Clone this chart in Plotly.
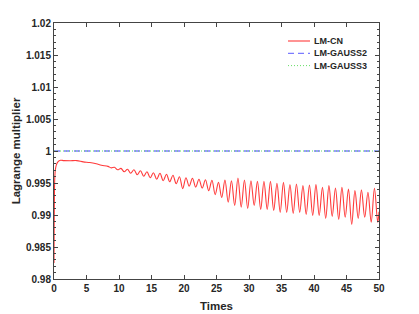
import plotly.graph_objects as go

# ---- data ----
t_start = [0.0, 0.03, 0.07, 0.12, 0.2, 0.35, 0.6, 1.0, 1.5, 2.5, 3.5, 4.5, 5.5, 6.5, 7.3]
v_start = [0.9825, 0.9890, 0.9935, 0.9958, 0.9970, 0.9978, 0.9983, 0.99855, 0.9985, 0.99848,
           0.9985, 0.9983, 0.9982, 0.9980, 0.99778]

# oscillation extrema (peaks at k+0.3, troughs at k+0.8), k = 8..49
t_peak = [8.3, 9.3, 10.3, 11.3, 12.3, 13.3, 14.3, 15.3, 16.3, 17.3, 18.3, 19.3, 20.3, 21.3,
          22.3, 23.3, 24.3, 25.3, 26.3, 27.3, 28.3, 29.3, 30.3, 31.3, 32.3, 33.3, 34.3, 35.3,
          36.3, 37.3, 38.3, 39.3, 40.3, 41.3, 42.3, 43.3, 44.3, 45.3, 46.3, 47.3, 48.3, 49.3]
v_peak = [0.99760, 0.99745, 0.99729, 0.99714, 0.99706, 0.99691, 0.99675, 0.99660, 0.99652,
          0.99636, 0.99621, 0.99598, 0.99582, 0.99575, 0.99559, 0.99551, 0.99544, 0.99510,
          0.99547, 0.99536, 0.99578, 0.99547, 0.99536, 0.99525, 0.99525, 0.99525, 0.99494,
          0.99510, 0.99474, 0.99485, 0.99459, 0.99469, 0.99474, 0.99432, 0.99459, 0.99423,
          0.99432, 0.99407, 0.99381, 0.99392, 0.99355, 0.99417]
t_trough = [8.8, 9.8, 10.8, 11.8, 12.8, 13.8, 14.8, 15.8, 16.8, 17.8, 18.8, 19.8, 20.8, 21.8,
            22.8, 23.8, 24.8, 25.8, 26.8, 27.8, 28.8, 29.8, 30.8, 31.8, 32.8, 33.8, 34.8, 35.8,
            36.8, 37.8, 38.8, 39.8, 40.8, 41.8, 42.8, 43.8, 44.8, 45.8, 46.8, 47.8, 48.8, 49.8]
v_trough = [0.99737, 0.99706, 0.99675, 0.99652, 0.99629, 0.99606, 0.99582, 0.99559, 0.99536,
            0.99520, 0.99489, 0.99412, 0.99451, 0.99435, 0.99420, 0.99381, 0.99319, 0.99273,
            0.99200, 0.99149, 0.99123, 0.99103, 0.99149, 0.99087, 0.99087, 0.99072, 0.99041,
            0.99041, 0.99025, 0.99041, 0.99010, 0.98994, 0.98994, 0.98948, 0.98979, 0.98933,
            0.98964, 0.98855, 0.98948, 0.98964, 0.98886, 0.98886]
t_end = [50.0]
v_end = [0.9905]

gauss_t = [0, 50]
gauss2 = [1.0, 1.0]
gauss3 = [1.0, 1.0]

series_names = ["LM-CN", "LM-GAUSS2", "LM-GAUSS3"]
series_colors = ["#ff3b3b", "#7b7bff", "#66dd66"]
series_dash = ["solid", "6px,4px", "1px,2px"]
series_width = [1.1, 1.3, 1.0]

x_ticks = [0, 5, 10, 15, 20, 25, 30, 35, 40, 45, 50]
y_ticks = [0.98, 0.985, 0.99, 0.995, 1.0, 1.005, 1.01, 1.015, 1.02]
y_tick_text = ["0.98", "0.985", "0.99", "0.995", "1", "1.005", "1.01", "1.015", "1.02"]

# merge extrema in time order
osc = sorted(list(zip(t_peak, v_peak)) + list(zip(t_trough, v_trough)))
cn_t = t_start + [p[0] for p in osc] + t_end
cn_v = v_start + [p[1] for p in osc] + v_end

fig = go.Figure()
fig.add_trace(go.Scatter(x=cn_t, y=cn_v, mode="lines", name=series_names[0],
                         line=dict(color=series_colors[0], width=series_width[0],
                                   shape="spline", smoothing=1.0)))
fig.add_trace(go.Scatter(x=gauss_t, y=gauss2, mode="lines", name=series_names[1],
                         line=dict(color=series_colors[1], width=series_width[1],
                                   dash=series_dash[1])))
fig.add_trace(go.Scatter(x=gauss_t, y=gauss3, mode="lines", name=series_names[2],
                         line=dict(color=series_colors[2], width=series_width[2],
                                   dash=series_dash[2])))

font_family = "Liberation Sans, Arial, sans-serif"

# compact legend (drawn in paper coordinates)
W, H = 419, 314
L, R, T, B = 54, 40, 23, 35
pw, ph = W - L - R, H - T - B
def px_x(x):
    return (x - L) / pw
def px_y(y):
    return 1 - (y - T) / ph

for i, name in enumerate(series_names):
    yy = 41 + 12.3 * i
    fig.add_shape(type="line", xref="paper", yref="paper",
                  x0=px_x(288), x1=px_x(310), y0=px_y(yy), y1=px_y(yy),
                  line=dict(color=series_colors[i], width=series_width[i], dash=series_dash[i]))
    fig.add_annotation(xref="paper", yref="paper", x=px_x(312), y=px_y(yy),
                       xanchor="left", yanchor="middle", showarrow=False, text=name,
                       font=dict(family=font_family, size=9, color="#262626", weight="bold"))

axis_common = dict(showline=True, linecolor="#444444", linewidth=1, mirror="ticks",
                   ticks="inside", ticklen=4, tickcolor="#444444", showgrid=False,
                   zeroline=False, automargin=False,
                   tickfont=dict(family=font_family, size=10, color="#262626", weight="bold"))

fig.update_layout(
    width=W, height=H,
    margin=dict(l=L, r=R, t=T, b=B),
    paper_bgcolor="white", plot_bgcolor="white",
    showlegend=False,
    xaxis=dict(range=[0, 50], tickvals=x_ticks,
               title=dict(text="Times", standoff=8,
                          font=dict(family=font_family, size=11.5, color="#262626", weight="bold")),
               **axis_common),
    yaxis=dict(range=[0.98, 1.02], tickvals=y_ticks, ticktext=y_tick_text,
               minor=dict(dtick=0.001, ticks="inside", ticklen=2, tickcolor="#444444"),
               title=dict(text="Lagrange multiplier", standoff=2,
                          font=dict(family=font_family, size=11.5, color="#262626", weight="bold")),
               **axis_common),
)

fig.write_html("out.html", config={"displayModeBar": False},
               post_script="document.body.style.margin='0';document.body.style.overflow='hidden';")
